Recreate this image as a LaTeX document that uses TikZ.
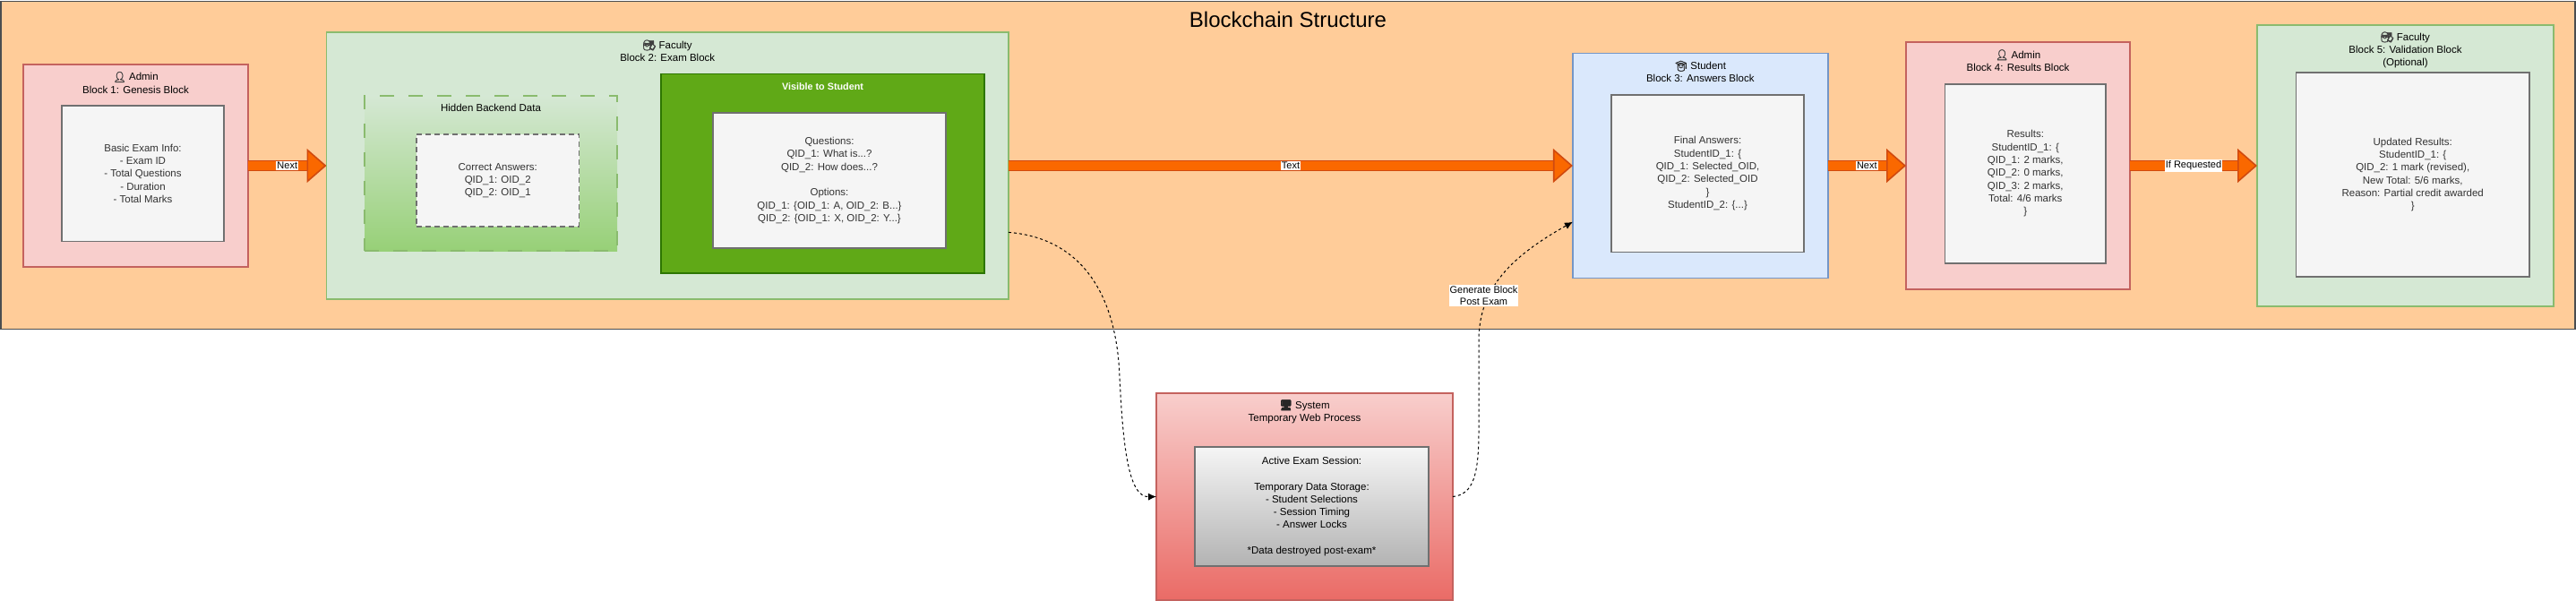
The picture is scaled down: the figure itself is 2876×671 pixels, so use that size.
\documentclass[tikz,border=0pt]{standalone}
\usepackage{fontspec}
\setmainfont{Liberation Sans}
\newfontfamily\emojifont[FakeBold=3]{Noto Emoji}
\usetikzlibrary{arrows.meta,calc}
\definecolor{chainfill}{HTML}{FFCC99}
\definecolor{chainline}{HTML}{4A4D50}
\definecolor{redfill}{HTML}{F8CECC}
\definecolor{redline}{HTML}{C4625E}
\definecolor{redlow}{HTML}{EA6B66}
\definecolor{greenfill}{HTML}{D5E8D4}
\definecolor{greenline}{HTML}{8ABB6E}
\definecolor{greenlow}{HTML}{97D077}
\definecolor{bluefill}{HTML}{DAE8FC}
\definecolor{blueline}{HTML}{7496C7}
\definecolor{visfill}{HTML}{60A917}
\definecolor{visline}{HTML}{2D7600}
\definecolor{datafill}{HTML}{F5F5F5}
\definecolor{dataline}{HTML}{707070}
\definecolor{datalow}{HTML}{B3B3B3}
\definecolor{datatext}{HTML}{333333}
\definecolor{fatfill}{HTML}{FA6800}
\definecolor{fatline}{HTML}{D04A10}
\newcommand{\admin}{{\emojifont\textcolor{black!75}{👤}}}
\newcommand{\faculty}{{\emojifont\textcolor{black!75}{🧑‍🏫}}}
\newcommand{\student}{{\emojifont\textcolor{black!85}{🧑‍🎓}}}
\newcommand{\system}{{\emojifont\textcolor{black!85}{🖥}}}
\tikzset{
  >={Latex[length=9pt,width=8pt]},
  x=1pt,
  y=-1pt,
}
\tikzstyle{every node}=[font=\fontsize{11.5}{14.3}\selectfont,align=center,inner sep=0pt]
\tikzstyle{blockbox}=[draw,line width=1.8pt,outer sep=0pt]
\tikzstyle{redblock}=[blockbox,draw=redline,fill=redfill]
\tikzstyle{greenblock}=[blockbox,draw=greenline,fill=greenfill]
\tikzstyle{blueblock}=[blockbox,draw=blueline,fill=bluefill]
\tikzstyle{databox}=[blockbox,draw=dataline,fill=datafill,text=datatext]
\tikzstyle{fat}=[line width=1.6pt,draw=fatline,double=fatfill,double distance=9.4pt,
  -{Triangle[length=22pt,width=38pt,fill=fatfill,line width=1.6pt]}]
\tikzstyle{fatlabel}=[fill=white,font=\fontsize{11}{13}\selectfont,inner xsep=1pt,inner ysep=1.5pt]
\tikzstyle{flow}=[line width=1pt,dash pattern=on 3pt off 3pt,->]

\begin{document}
\begin{tikzpicture}
  \useasboundingbox (0,0) rectangle (2876,671);
  \node[blockbox,draw=chainline,fill=chainfill,minimum width=2874pt,minimum height=366pt] (chain) at (1438,184.5) {};
  \node[font=\fontsize{24}{28}\selectfont] (chaintitle) at (1438,22) {Blockchain Structure};

  \node[redblock,minimum width=251pt,minimum height=226.5pt] (genesis) at (151.5,185) {};
  \node at ([yshift=-20.5pt]genesis.north) (genesistitle) {\admin{} Admin\\Block 1: Genesis Block};
  \node[databox,minimum width=181pt,minimum height=151.5pt] (genesisdata) at (159.5,193.75)
  {Basic Exam Info:\\- Exam ID\\- Total Questions\\- Duration\\- Total Marks};

  \node[greenblock,minimum width=761.5pt,minimum height=297.5pt] (exam) at (745.25,185) {};
  \node at ([yshift=-20.5pt]exam.north) (examtitle) {\faculty{} Faculty\\Block 2: Exam Block};
  \node[blockbox,dash pattern=on 16pt off 16pt,draw=greenline,top color=greenfill,bottom color=greenlow,
    minimum width=282pt,minimum height=173pt] (hidden) at (548,193.5) {};
  \node at ([yshift=-13.5pt]hidden.north) (hiddentitle) {Hidden Backend Data};
  \node[databox,dash pattern=on 6pt off 4pt,minimum width=181.5pt,minimum height=103pt] (hiddendata) at (555.75,201.5)
  {Correct Answers:\\QID\_1: OID\_2\\QID\_2: OID\_1};
  \node[blockbox,draw=visline,fill=visfill,minimum width=361pt,minimum height=222.5pt] (visible) at (918.5,193.75) {};
  \node[text=white,font=\fontsize{10.8}{14}\bfseries\selectfont] at ([yshift=-13.8pt]visible.north) (visibletitle) {Visible to Student};
  \node[databox,minimum width=259.6pt,minimum height=151pt] (visibledata) at (926,201.5)
  {Questions:\\QID\_1: What is...?\\QID\_2: How does...?\\[14.3pt]Options:\\QID\_1: \{OID\_1: A, OID\_2: B...\}\\QID\_2: \{OID\_1: X, OID\_2: Y...\}};

  \node[blueblock,minimum width=284.7pt,minimum height=251pt] (answers) at (1898.3,185) {};
  \node at ([yshift=-20.5pt]answers.north) (answerstitle) {\student{} Student\\Block 3: Answers Block};
  \node[databox,minimum width=215pt,minimum height=175.5pt] (answersdata) at (1906.5,193.75)
  {Final Answers:\\StudentID\_1: \{\\QID\_1: Selected\_OID,\\QID\_2: Selected\_OID\\\}\\StudentID\_2: \{...\}};

  \node[redblock,minimum width=250pt,minimum height=276pt] (results) at (2253,185) {};
  \node at ([yshift=-20.5pt]results.north) (resultstitle) {\admin{} Admin\\Block 4: Results Block};
  \node[databox,minimum width=179.5pt,minimum height=199.6pt] (resultsdata) at (2261.25,193.8)
  {Results:\\StudentID\_1: \{\\QID\_1: 2 marks,\\QID\_2: 0 marks,\\QID\_3: 2 marks,\\Total: 4/6 marks\\\}};

  \node[greenblock,minimum width=331pt,minimum height=314pt] (validation) at (2685.5,185) {};
  \node at ([yshift=-28pt]validation.north) (validationtitle) {\faculty{} Faculty\\Block 5: Validation Block\\(Optional)};
  \node[databox,minimum width=260.6pt,minimum height=228pt] (validationdata) at (2693.7,195)
  {Updated Results:\\StudentID\_1: \{\\QID\_2: 1 mark (revised),\\New Total: 5/6 marks,\\Reason: Partial credit awarded\\\}};

  \node[blockbox,draw=redline,top color=redfill,bottom color=redlow,minimum width=331pt,minimum height=231pt] (webproc) at (1456.5,554.5) {};
  \node at ([yshift=-20.7pt]webproc.north) (webproctitle) {\system{} System\\Temporary Web Process};
  \node[blockbox,draw=dataline,top color=datafill,bottom color=datalow,minimum width=261pt,minimum height=133pt] (webdata) at (1464.5,565.5)
  {Active Exam Session:\\[14.3pt]Temporary Data Storage:\\- Student Selections\\- Session Timing\\- Answer Locks\\[14.3pt]*Data destroyed post-exam*};

  \draw[fat] (genesis.east)--(exam.west) node[midway,fatlabel] (nextone) {Next};
  \draw[fat] (exam.east)--(answers.west) node[midway,fatlabel] (textlabel) {Text};
  \draw[fat] (answers.east)--(results.west) node[midway,fatlabel] (nexttwo) {Next};
  \draw[fat] (results.east)--(validation.west) node[midway,fatlabel] (requested) {If Requested};

  \coordinate (examout) at ($(exam.north east)!.75!(exam.south east)$);
  \coordinate (answersin) at ($(answers.north west)!.75!(answers.south west)$);
  \draw[flow] (examout) .. controls +(75,6) and (1246,320) .. (1250,420)
    .. controls (1254,510) and (1262,555) .. (webproc.west);
  \draw[flow] (webproc.east) .. controls (1645,552) and (1651,530) .. (1651,480) -- (1651,380)
    .. controls (1651,320) and (1690,285) .. (answersin);
  \node[fill=white,font=\fontsize{11}{13}\selectfont,inner xsep=1pt,inner ysep=1.5pt] (genlabel) at (1656.5,330) {Generate Block\\Post Exam};
\end{tikzpicture}
\end{document}
